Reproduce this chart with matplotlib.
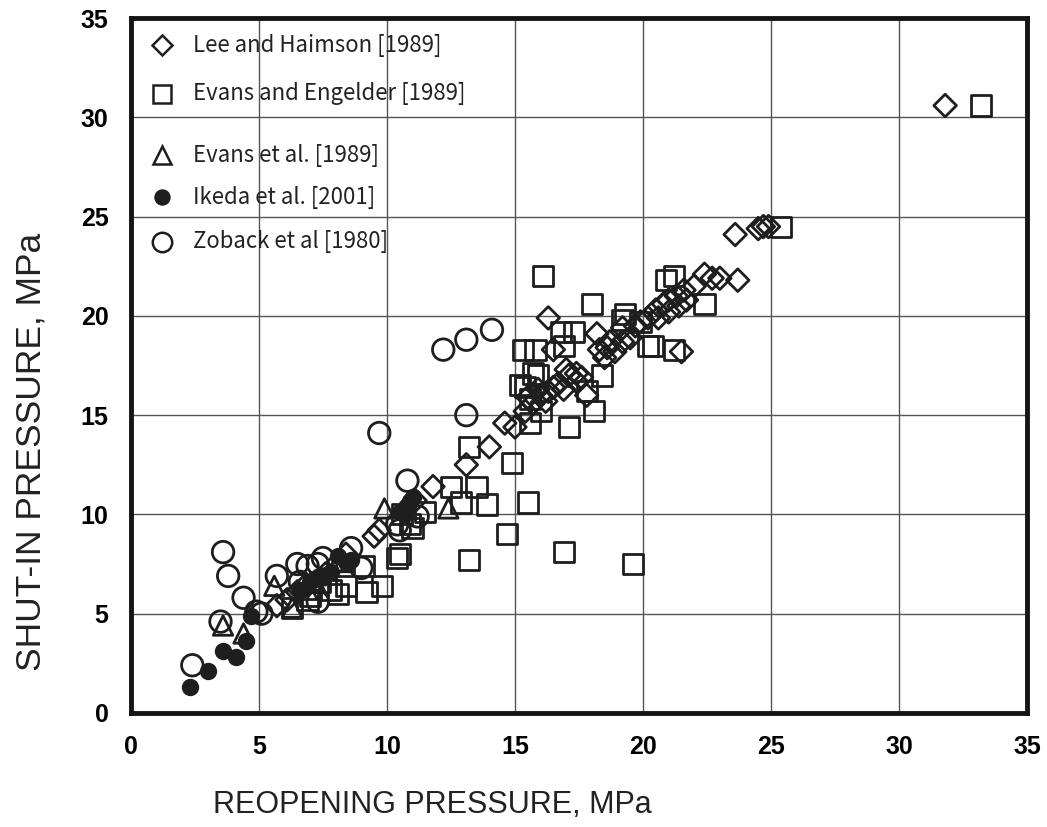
import matplotlib
matplotlib.use("Agg")
import matplotlib.pyplot as plt
from matplotlib.lines import Line2D

# ---------------- data ----------------
lee_x = [31.8, 23.6, 24.5, 24.7, 24.9, 22.4, 22.7, 23.0, 23.7, 21.5, 16.3, 16.5, 18.2, 17.6, 17.8,
         14.6, 15.0, 14.0, 13.1, 11.8, 11.1, 10.7, 9.5, 9.7,
         15.4, 15.7, 16.0, 16.3, 16.5, 16.7, 16.2, 16.9, 17.1, 17.4, 15.5, 15.9,
         18.3, 18.6, 18.9, 19.2, 18.7, 19.5, 19.7, 19.2, 18.5,
         19.9, 20.2, 20.5, 20.8, 21.0, 21.3, 21.6, 20.6, 21.0, 21.4, 21.7, 22.0,
         17.0, 17.4, 5.7, 6.1, 6.5, 6.8, 7.2, 7.6, 8.1, 8.4]
lee_y = [30.6, 24.1, 24.4, 24.5, 24.5, 22.1, 21.9, 21.9, 21.8, 18.2, 19.9, 18.3, 19.1, 16.9, 16.0,
         14.6, 14.4, 13.4, 12.5, 11.4, 10.7, 10.2, 8.9, 9.2,
         15.2, 15.6, 16.0, 16.2, 16.4, 16.6, 15.7, 16.3, 17.0, 16.7, 15.9, 16.3,
         18.3, 18.4, 18.2, 18.7, 18.7, 18.9, 19.5, 19.4, 17.9,
         19.7, 19.9, 20.3, 20.6, 20.8, 21.0, 21.3, 19.9, 20.2, 20.5, 20.8, 21.5,
         17.3, 17.1, 5.4, 5.7, 6.1, 6.4, 6.6, 7.0, 7.6, 8.0]

evans_eng_x = [33.2, 25.4, 21.2, 20.9, 22.4, 16.1, 18.0, 19.3, 15.3, 16.8, 17.3, 16.9, 20.4, 15.7,
               15.2, 18.4, 18.1, 17.1, 15.6, 14.9, 13.2, 12.5, 13.5, 12.9, 13.9, 15.5, 14.7, 13.2,
               16.9, 19.6, 10.5, 10.4, 11.0, 9.8, 9.2, 9.1, 8.1, 7.0, 6.3, 21.2, 15.6, 16.0, 15.9,
               11.5, 10.9, 7.4, 8.4, 10.6, 17.8, 19.2, 19.9, 20.2, 15.8, 15.4, 6.9, 7.8]
evans_eng_y = [30.6, 24.5, 22.0, 21.8, 20.6, 22.0, 20.6, 20.1, 18.3, 19.2, 19.2, 18.5, 18.5, 17.1,
               16.5, 17.0, 15.2, 14.4, 14.6, 12.6, 13.4, 11.4, 11.4, 10.6, 10.5, 10.6, 9.0, 7.7,
               8.1, 7.5, 8.0, 7.8, 9.3, 6.4, 6.1, 7.4, 6.0, 5.9, 5.3, 18.3, 15.8, 15.2, 17.0,
               10.1, 9.5, 6.6, 6.4, 10.0, 16.2, 19.8, 19.7, 18.5, 18.3, 16.4, 5.7, 6.2]

evans_x = [3.6, 4.4, 5.6, 6.3, 9.9, 12.4, 7.2, 8.3, 6.9]
evans_y = [4.4, 4.0, 6.4, 5.3, 10.3, 10.3, 6.6, 7.6, 6.2]

ikeda_x = [2.3, 3.0, 3.6, 4.1, 4.5, 4.7, 6.6, 7.0, 7.4, 7.8, 8.1, 8.4, 8.6, 10.5, 10.8, 10.9, 11.0, 10.7]
ikeda_y = [1.3, 2.1, 3.1, 2.8, 3.6, 4.9, 6.2, 6.6, 6.9, 7.1, 7.9, 7.6, 7.7, 10.1, 10.4, 10.7, 10.9, 10.0]

zoback_x = [2.4, 3.6, 3.8, 4.4, 3.5, 4.9, 5.7, 6.5, 6.9, 7.3, 7.5, 8.6, 9.0, 7.3, 6.6,
            9.7, 12.2, 13.1, 14.1, 13.1, 10.8, 10.5, 10.4, 11.2, 5.1]
zoback_y = [2.4, 8.1, 6.9, 5.8, 4.6, 5.1, 6.9, 7.5, 7.4, 7.5, 7.8, 8.3, 7.3, 5.6, 6.6,
            14.1, 18.3, 18.8, 19.3, 15.0, 11.7, 9.2, 9.5, 9.9, 5.0]

labels = ["Lee and Haimson [1989]", "Evans and Engelder [1989]", "Evans et al. [1989]",
          "Ikeda et al. [2001]", "Zoback et al [1980]"]
xticks = [0, 5, 10, 15, 20, 25, 30, 35]
yticks = [0, 5, 10, 15, 20, 25, 30, 35]

# ---------------- plot ----------------
ec = "#1e1e1e"
fig = plt.figure(figsize=(10.47, 8.27), dpi=100)
ax = fig.add_axes([0.125, 0.138, 0.856, 0.840])

lw = 2.0
ax.scatter(evans_eng_x, evans_eng_y, marker="s", s=14.5**2, facecolors="none", edgecolors=ec, linewidths=lw, zorder=3)
ax.scatter(lee_x, lee_y, marker="D", s=11.5**2, facecolors="none", edgecolors=ec, linewidths=lw, zorder=3)
ax.scatter(zoback_x, zoback_y, marker="o", s=15.5**2, facecolors="none", edgecolors=ec, linewidths=lw, zorder=3)
ax.scatter(evans_x, evans_y, marker="^", s=14**2, facecolors="none", edgecolors=ec, linewidths=lw, zorder=3)
ax.scatter(ikeda_x, ikeda_y, marker="o", s=11.5**2, facecolors=ec, edgecolors=ec, linewidths=1, zorder=4)

ax.set_xlim(0, 35)
ax.set_ylim(0, 35)
ax.set_xticks(xticks)
ax.set_yticks(yticks)
ax.grid(True, color="#555555", linewidth=1.0, zorder=0)
ax.set_axisbelow(True)
for sp in ax.spines.values():
    sp.set_linewidth(3.5)
    sp.set_color("#151515")
ax.tick_params(length=0, pad=16, labelsize=18)
for t in ax.get_xticklabels() + ax.get_yticklabels():
    t.set_fontweight("bold")
    t.set_family(["Liberation Sans", "DejaVu Sans"])

ax.set_xlabel("REOPENING PRESSURE, MPa", fontsize=22, family=["Liberation Sans", "DejaVu Sans"],
              labelpad=22, color="#222222")
ax.set_ylabel("SHUT-IN PRESSURE, MPa", fontsize=25.5, family=["Liberation Sans", "DejaVu Sans"],
              labelpad=24, color="#222222")
ax.xaxis.label.set_x(0.336)
ax.yaxis.label.set_y(0.376)

# legend (manual, transparent over grid)
leg_y = [0.961, 0.891, 0.803, 0.742, 0.678]
leg_m = [("D", 10, "none"), ("s", 13, "none"), ("^", 13, "none"), ("o", 10, ec), ("o", 14, "none")]
for (m, ms, fc), yy, lab in zip(leg_m, leg_y, labels):
    ax.add_line(Line2D([0.035], [yy], marker=m, markersize=ms, markerfacecolor=fc, markeredgecolor=ec,
                       markeredgewidth=1.8, linestyle="none", transform=ax.transAxes, zorder=5))
    ax.text(0.069, yy, lab, transform=ax.transAxes, fontsize=16, va="center", ha="left",
            family=["Noto Sans CJK JP", "DejaVu Sans"], color="#222222", zorder=5)

fig.savefig("out.png", dpi=100)
